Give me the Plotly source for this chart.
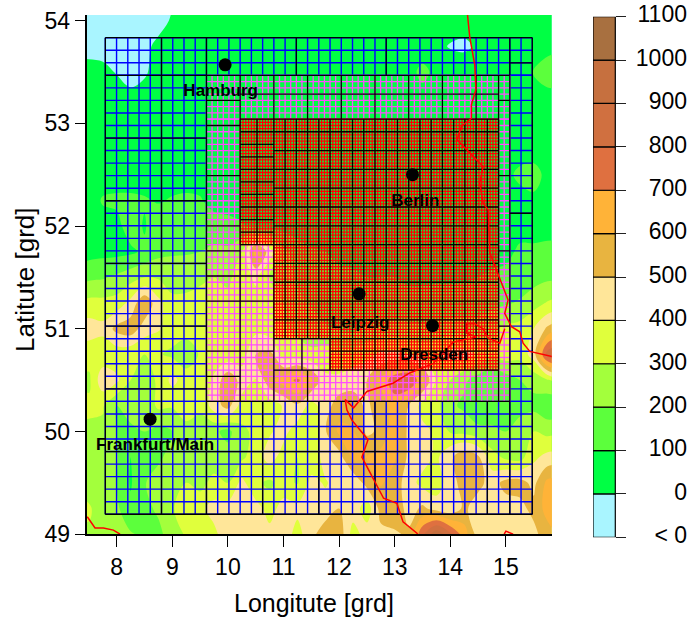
import plotly.graph_objects as go

W, H = 688, 618

# ---------- elevation field ----------
lon_nodes = [7.25,7.5,7.75,8,8.25,8.5,8.75,9,9.25,9.5,9.75,10,10.25,10.5,10.75,11,11.25,11.5,11.75,12,12.25,12.5,12.75,13,13.25,13.5,13.75,14,14.25,14.5,14.75,15,15.25,15.5,15.75,16]
lat_nodes = [54.25,54,53.75,53.5,53.25,53,52.75,52.5,52.25,52,51.75,51.5,51.25,51,50.75,50.5,50.25,50,49.75,49.5,49.25,49]
e5425 = [-40,-40,-40,-40,-40,-40,-40,-10,30,40,40,40,50,50,50,50,50,50,50,50,50,50,50,50,50,50,30,30,30,40,50,50,50,60,80,100]
e5400 = [-40,-40,-40,-40,-40,-40,-30,10,40,40,50,50,50,50,50,50,50,50,50,50,50,50,50,50,50,50,40,40,40,40,50,50,50,60,80,120]
e5375 = [-30,-30,-30,-30,-30,-20,20,40,50,50,50,50,50,50,50,50,50,50,50,50,50,50,50,50,50,40,20,-6,-18,15,40,50,50,60,80,90]
e5350 = [30,30,20,-5,-30,-10,30,40,50,50,50,50,50,50,50,50,50,50,50,50,50,50,50,50,60,130,70,50,60,50,50,50,50,105,130,130]
e5325 = [50,50,50,40,20,30,40,50,50,50,50,50,50,50,50,60,50,50,50,50,50,50,50,50,50,60,50,50,50,50,50,50,50,70,80,80]
e5300 = [50]*36
e5275 = [50]*36
e5250 = [50,50,50,50,50,50,50,50,50,50,50,50,50,50,50,50,50,50,50,50,50,50,50,50,50,50,50,50,50,50,50,70,125,140,70,50]
e5225 = [50,50,110,120,120,110,90,110,120,110,60,60,50,50,50,50,50,50,50,50,50,50,50,50,50,50,50,50,50,50,50,50,60,80,50,50]
e5200 = [50,50,60,70,150,90,170,180,190,170,150,130,110,70,70,60,50,50,50,60,60,60,60,60,60,60,60,60,60,60,60,60,60,60,60,60]
e5175 = [50,60,70,70,80,120,170,190,190,200,220,220,300,650,450,230,150,110,100,90,80,80,80,80,80,80,80,80,80,80,80,70,120,120,130,130]
e5150 = [130,180,190,220,260,300,290,250,270,280,300,280,350,420,300,260,180,140,120,110,110,100,100,100,90,90,90,90,90,100,110,130,150,160,180,180]
e5125 = [300,330,330,340,430,590,430,330,320,340,350,330,340,360,370,300,230,190,160,130,130,150,140,130,120,120,130,130,140,150,170,190,210,260,310,340]
e5100 = [450,450,430,530,560,450,410,350,340,320,310,340,350,370,340,310,280,250,210,190,180,220,230,240,230,220,230,260,250,250,280,320,340,400,520,600]
e5075 = [350,340,330,340,320,300,310,280,240,310,340,330,350,500,520,350,340,320,350,340,340,370,420,430,400,370,390,430,440,380,300,350,330,450,850,950]
e5050 = [300,280,470,420,300,240,320,430,350,300,420,580,460,390,570,650,720,610,420,420,460,500,620,770,820,620,380,300,220,150,120,150,200,230,290,340]
e5025 = [340,320,310,200,220,230,320,310,360,310,450,540,350,310,340,410,480,360,450,560,550,480,560,640,500,360,330,220,180,120,170,130,170,170,120,120]
e5000 = [260,280,280,200,190,200,170,200,260,280,220,170,280,320,390,430,350,310,490,620,610,480,520,680,470,430,380,290,270,230,210,200,240,300,270,300]
e4975 = [300,290,260,210,100,150,170,260,280,240,230,240,280,350,440,360,300,330,440,460,620,600,640,610,480,440,380,480,570,520,340,280,260,380,430,430]
e4950 = [290,260,230,200,90,190,270,280,300,260,340,300,430,320,280,340,290,430,390,440,420,540,610,560,440,370,340,460,540,530,460,530,540,470,630,640]
e4925 = [320,310,260,220,120,170,220,290,360,380,430,440,420,440,360,440,430,480,440,500,460,340,540,590,450,520,460,430,520,450,430,460,470,530,640,620]
e4900 = [280,290,250,240,210,180,170,260,310,370,380,450,460,470,430,460,360,470,560,570,350,450,470,480,520,780,980,820,650,450,440,460,460,470,560,620]
elevation = [e5425,e5400,e5375,e5350,e5325,e5300,e5275,e5250,e5225,e5200,e5175,e5150,e5125,e5100,e5075,e5050,e5025,e5000,e4975,e4950,e4925,e4900]

# ---------- legend bands ----------
band_labels = ["< 0","0","100","200","300","400","500","600","700","800","900","1000","1100"]
band_edges = [-100,0,100,200,300,400,500,600,700,800,900,1000,1100]
band_colors = ["#a9f5ff","#00ff44","#5cff3c","#a3ff3c","#e0ff3c","#ffe699","#e8b440","#ffb338","#df7040","#d07040","#c6703f","#a87040"]

# ---------- model grid (index units of the coarse mesh) ----------
lon0, dlon = 7.795, 0.2021
lat0, dlat = 53.834, 0.1221
blue_rects = [(0,38,0,3),(0,9,3,29),(36,38,3,29),(0,38,29,38)]
magenta_rects = [(9,36,3,6.5),(9,12,6.5,29),(35,36,6.5,29),(12,15,16.5,29),(15,20,24,29),(20,35,26.5,29)]
red_rects = [(12,35,6.5,16.5),(15,35,16.5,24),(20,35,24,26.5)]

# block boundaries: (fixed index, start, end)
v_blocks = [(0,0,38),(38,0,38),(5,0,38),(9,0,38),(36,0,38),(17,0,3),(25,0,3),(12,3,29),(35,3,29),(13.5,6.5,16.5),
            (15,3,29),(18,3,6.5),(21,3,6.5),(24,3,6.5),(27,3,6.5),(30,3,6.5),(33,3,6.5),(17.5,24,26.5),
            (18,26.5,29),(23,26.5,29),(28,26.5,29),(33,26.5,29),
            (14,29,38),(19,29,38),(24,29,38),(29,29,38),(34,29,38)]
v_blocks += [(k,6.5,24) for k in [16,17,18,19]] + [(k,6.5,26.5) for k in [20,21,22,23,24,25,26,27,28,29,30,31,32,33,34]]
h_blocks = [(0,0,38),(38,0,38),(3,0,36),(2,36,38),(14,36,38),(26,36,38),(33,0,38),(29,9,36),
            (8,0,9),(13,0,9),(18,0,9),(23,0,9),(28,0,9),
            (5,9,12),(7,9,12),(11,9,12),(15,9,12),(17,9,12),(27,9,12),
            (19,9,15),(21,9,15),(25,9,15),
            (4.5,12,35),(6.5,12,35),(26.5,15,35),(25,20,35),
            (5,35,36),(11,35,36),(17,35,36),(23,35,36)]
h_blocks += [(k,12,15) for k in [7.5,8.5,9.5,10.5,11.5,12.5,13.5,14.5,15.5,16.5]]
h_blocks += [(k,15,35) for k in [7.5,9,10.5,12,13.5,15,16.5,18,19.5,21,22.5,24]]

# ---------- borders ----------
border_a_lon = [14.31,14.35,14.44,14.46,14.38,14.38,14.20,14.12,14.59,14.53,14.59,14.68,14.71,14.89,15.04,14.98,15.10,15.25,15.31,15.43,15.79,15.83]
border_a_lat = [54.055,53.84,53.57,53.33,53.18,53.05,52.97,52.84,52.58,52.42,52.22,52.16,51.74,51.49,51.28,51.15,51.02,50.97,50.86,50.78,50.74,50.73]
border_b_lon = [14.98,14.89,14.68,14.59,14.44,14.29,14.29,14.47,14.05,13.69,13.27,12.97,12.50,12.26,12.11,12.14,12.23,12.44,12.52,12.41,12.62,12.80,13.04,13.15,13.40,13.41]
border_b_lat = [51.0,50.86,50.91,51.0,51.05,51.05,50.96,50.92,50.87,50.66,50.57,50.47,50.39,50.23,50.31,50.21,50.11,49.98,49.92,49.75,49.53,49.35,49.30,49.12,49.01,49.0]
border_c_lon = [14.97,15.0,15.13]
border_c_lat = [49.0,49.03,49.0]
border_d_lon = [7.47,7.61,7.76,7.94,8.06]
border_d_lat = [49.17,49.06,49.06,49.04,49.0]

# ---------- cities ----------
city_names = ["Hamburg","Berlin","Leipzig","Dresden","Frankfurt/Main"]
city_lon = [9.95,13.32,12.36,13.68,8.60]
city_lat = [53.57,52.50,51.34,51.03,50.12]
label_lon = [9.87,13.37,12.38,13.71,8.69]
label_lat = [53.31,52.24,51.05,50.74,49.86]

lon_ticks = [8,9,10,11,12,13,14,15]
lat_ticks = [49,50,51,52,53,54]

def fx(px): return px / W
def fy(py): return 1 - py / H

def frange(a, b, s):
    out, k = [], 0
    while a + k*s <= b + 1e-9:
        out.append(a + k*s); k += 1
    return out

def lattice(rects, step):
    xs, ys = [], []
    for i0,i1,j0,j1 in rects:
        for i in frange(i0,i1,step):
            xs += [lon0+i*dlon, lon0+i*dlon, None]; ys += [lat0-j0*dlat, lat0-j1*dlat, None]
        for j in frange(j0,j1,step):
            xs += [lon0+i0*dlon, lon0+i1*dlon, None]; ys += [lat0-j*dlat, lat0-j*dlat, None]
    return xs, ys

def blocks():
    xs, ys = [], []
    for i,a,b in v_blocks:
        xs += [lon0+i*dlon, lon0+i*dlon, None]; ys += [lat0-a*dlat, lat0-b*dlat, None]
    for j,a,b in h_blocks:
        xs += [lon0+a*dlon, lon0+b*dlon, None]; ys += [lat0-j*dlat, lat0-j*dlat, None]
    return xs, ys

n = len(band_colors)
cscale = []
for k,c in enumerate(band_colors):
    cscale += [[k/n, c], [(k+1)/n, c]]

fig = go.Figure()
fig.add_trace(go.Contour(x=lon_nodes, y=lat_nodes, z=elevation, colorscale=cscale, zmin=-100, zmax=1100,
    autocontour=False, contours=dict(start=0, end=1000, size=100, coloring="fill", showlines=False),
    line=dict(width=0), showscale=False, hoverinfo="skip"))
for rects, step, col, w in [(blue_rects,1,"#0000ff",1.4),(magenta_rects,0.5,"#ff4dff",1.3),(red_rects,0.25,"#ff0000",1.3)]:
    xs, ys = lattice(rects, step)
    fig.add_trace(go.Scatter(x=xs, y=ys, mode="lines", line=dict(color=col, width=w), hoverinfo="skip"))
xs, ys = blocks()
fig.add_trace(go.Scatter(x=xs, y=ys, mode="lines", line=dict(color="#000000", width=1.3), hoverinfo="skip"))
for bx, by in [(border_a_lon,border_a_lat),(border_b_lon,border_b_lat),(border_c_lon,border_c_lat),(border_d_lon,border_d_lat)]:
    fig.add_trace(go.Scatter(x=bx, y=by, mode="lines", line=dict(color="#ff0000", width=1.5), hoverinfo="skip"))
fig.add_trace(go.Scatter(x=city_lon, y=city_lat, mode="markers", marker=dict(color="#000000", size=13), hoverinfo="skip"))
fig.add_trace(go.Scatter(x=label_lon, y=label_lat, mode="text", text=city_names, textposition="middle center",
    textfont=dict(family="Liberation Sans", size=17, color="#000000", weight="bold"), hoverinfo="skip"))

# legend bar: the x2 axis spans the bar and its labels, measured in px-wide units
bar_span = 22.3
label_span = 94
font = dict(family="Liberation Sans", size=23, color="#000000")
for k,c in enumerate(band_colors):
    fig.add_trace(go.Bar(x=[bar_span/2], y=[band_edges[k+1]-band_edges[k]], base=[band_edges[k]], width=[bar_span], xaxis="x2", yaxis="y2",
        marker=dict(color=c, line=dict(color="#000000", width=1.2)), hoverinfo="skip"))
fig.add_trace(go.Scatter(x=[label_span]*len(band_edges), y=band_edges, text=band_labels, mode="text", textposition="middle left",
    textfont=font, xaxis="x2", yaxis="y2", cliponaxis=False, hoverinfo="skip"))

title_x = dict(text="Longitute [grd]", x=fx(313.5), y=fy(603), xref="paper", yref="paper", xanchor="center", yanchor="middle", showarrow=False,
               font=dict(family="Liberation Sans", size=25, color="#000000"))
title_y = dict(text="Latitute [grd]", x=fx(25), y=fy(280), xref="paper", yref="paper", xanchor="center", yanchor="middle", showarrow=False, textangle=-90,
               font=dict(family="Liberation Sans", size=26, color="#000000"))

fig.update_layout(width=W, height=H, margin=dict(l=0,r=0,t=0,b=0), autosize=False, showlegend=False,
    paper_bgcolor="#ffffff", plot_bgcolor="#ffffff", barmode="overlay", annotations=[title_x, title_y],
    font=font,
    xaxis=dict(domain=[fx(86.7),fx(551.7)], range=[7.46,15.824], tickvals=lon_ticks, ticks="outside", ticklen=11, tickwidth=1.2,
        tickcolor="#000000", showgrid=False, zeroline=False, showline=True, linecolor="#000000", linewidth=2, automargin=False,
        ticklabelstandoff=0, tickfont=font),
    yaxis=dict(domain=[fy(534.2),fy(15)], range=[49,54.055], tickvals=lat_ticks, ticks="outside", ticklen=10, tickwidth=1.2,
        tickcolor="#000000", showgrid=False, zeroline=False, showline=True, linecolor="#000000", linewidth=2, automargin=False,
        ticklabelstandoff=0, tickfont=font),
    xaxis2=dict(domain=[fx(593),fx(593+label_span)], range=[0,label_span], visible=False, anchor="y2", fixedrange=True),
    yaxis2=dict(domain=[fy(537.3),fy(16.7)], range=[-100,1100], anchor="free", position=fx(615.3), side="right", tickvals=band_edges, ticks="outside", ticklen=10,
        tickwidth=1.2, tickcolor="#222222", showticklabels=False, showgrid=False, zeroline=False, showline=False, automargin=False),
)
fig.write_html("out.html", config=dict(displayModeBar=False), post_script="document.body.style.margin='0';document.documentElement.style.overflow='hidden';")
